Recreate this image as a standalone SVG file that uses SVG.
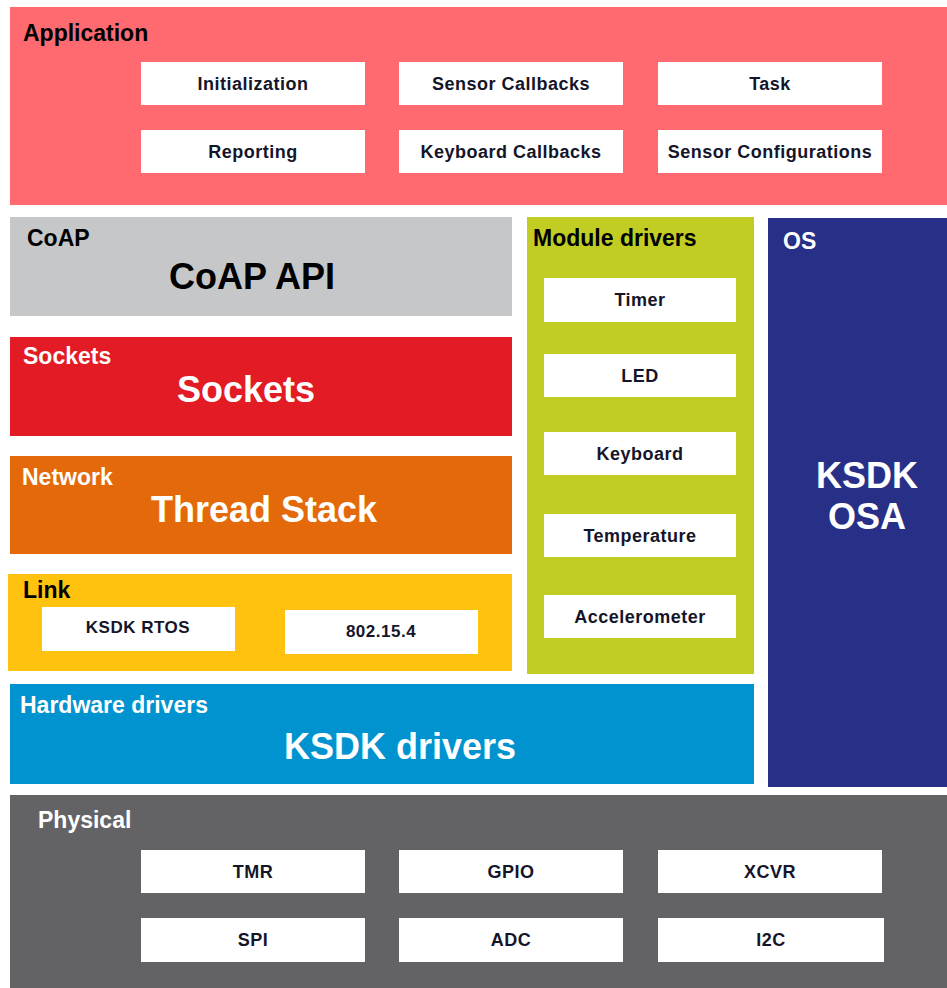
<svg xmlns="http://www.w3.org/2000/svg" width="947" height="988" viewBox="0 0 947 988">
<style>
text{font-family:"Liberation Sans",Arial,sans-serif;font-weight:bold}
.hd{font-size:23px}
.big{font-size:36px;text-anchor:middle}
.bx{fill:#ffffff}
.bt{font-size:18px;text-anchor:middle;fill:#15152a;letter-spacing:0.5px}
.w{fill:#ffffff}
.k{fill:#000000}
</style>
<rect width="947" height="988" fill="#ffffff"/>
<g id="application">
<rect x="10" y="7" width="937" height="198" fill="#ff6a70"/>
<text class="hd k" x="23" y="41">Application</text>
<rect class="bx" x="141" y="62" width="224" height="43"/>
<text class="bt" x="253" y="90">Initialization</text>
<rect class="bx" x="399" y="62" width="224" height="43"/>
<text class="bt" x="511" y="90">Sensor Callbacks</text>
<rect class="bx" x="658" y="62" width="224" height="43"/>
<text class="bt" x="770" y="90">Task</text>
<rect class="bx" x="141" y="130" width="224" height="43"/>
<text class="bt" x="253" y="158">Reporting</text>
<rect class="bx" x="399" y="130" width="224" height="43"/>
<text class="bt" x="511" y="158">Keyboard Callbacks</text>
<rect class="bx" x="658" y="130" width="224" height="43"/>
<text class="bt" x="770" y="158">Sensor Configurations</text>
</g>
<g id="coap">
<rect x="10" y="217" width="502" height="99" fill="#c6c7c9"/>
<text class="hd k" x="27" y="246">CoAP</text>
<text class="big k" x="252" y="289">CoAP API</text>
</g>
<g id="sockets">
<rect x="10" y="337" width="502" height="99" fill="#e21b24"/>
<text class="hd w" x="23" y="364">Sockets</text>
<text class="big w" x="246" y="402">Sockets</text>
</g>
<g id="network">
<rect x="10" y="456" width="502" height="98" fill="#e4690b"/>
<text class="hd w" x="22" y="485">Network</text>
<text class="big w" x="264" y="522">Thread Stack</text>
</g>
<g id="link">
<rect x="8" y="574" width="504" height="97" fill="#ffc20e"/>
<text class="hd k" x="23" y="598">Link</text>
<rect class="bx" x="42" y="607" width="193" height="44"/>
<text class="bt" x="138" y="633" style="font-size:17px">KSDK RTOS</text>
<rect class="bx" x="285" y="610" width="193" height="44"/>
<text class="bt" x="381" y="637" style="font-size:17px">802.15.4</text>
</g>
<g id="module-drivers">
<rect x="527" y="217" width="227" height="457" fill="#c1cd23"/>
<text class="hd k" x="533" y="246">Module drivers</text>
<rect class="bx" x="544" y="278" width="192" height="44"/>
<text class="bt" x="640" y="306">Timer</text>
<rect class="bx" x="544" y="354" width="192" height="43"/>
<text class="bt" x="640" y="382">LED</text>
<rect class="bx" x="544" y="432" width="192" height="43"/>
<text class="bt" x="640" y="460">Keyboard</text>
<rect class="bx" x="544" y="514" width="192" height="43"/>
<text class="bt" x="640" y="542">Temperature</text>
<rect class="bx" x="544" y="595" width="192" height="43"/>
<text class="bt" x="640" y="623">Accelerometer</text>
</g>
<g id="os">
<rect x="768" y="218" width="179" height="569" fill="#272f87"/>
<text class="hd w" x="783" y="249">OS</text>
<text class="big w" x="867" y="488">KSDK</text>
<text class="big w" x="867" y="529">OSA</text>
</g>
<g id="hardware-drivers">
<rect x="10" y="684" width="744" height="100" fill="#0093d0"/>
<text class="hd w" x="20" y="713">Hardware drivers</text>
<text class="big w" x="400" y="759">KSDK drivers</text>
</g>
<g id="physical">
<rect x="10" y="795" width="937" height="193" fill="#636366"/>
<text class="hd w" x="38" y="828">Physical</text>
<rect class="bx" x="141" y="850" width="224" height="43"/>
<text class="bt" x="253" y="878">TMR</text>
<rect class="bx" x="399" y="850" width="224" height="43"/>
<text class="bt" x="511" y="878">GPIO</text>
<rect class="bx" x="658" y="850" width="224" height="43"/>
<text class="bt" x="770" y="878">XCVR</text>
<rect class="bx" x="141" y="918" width="224" height="44"/>
<text class="bt" x="253" y="946">SPI</text>
<rect class="bx" x="399" y="918" width="224" height="44"/>
<text class="bt" x="511" y="946">ADC</text>
<rect class="bx" x="658" y="918" width="226" height="44"/>
<text class="bt" x="771" y="946">I2C</text>
</g>
<g id="connectors"></g>
</svg>
